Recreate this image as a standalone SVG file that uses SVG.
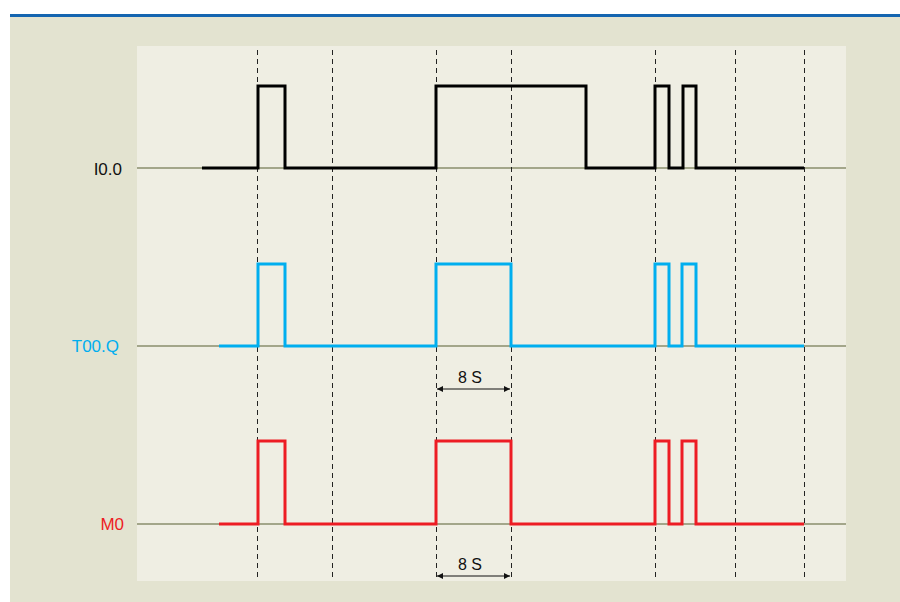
<svg xmlns="http://www.w3.org/2000/svg" width="900" height="602" viewBox="0 0 900 602">
<style>
.lbl{font-family:"Liberation Sans",Arial,sans-serif;font-size:17px}
.dim{font-family:"Liberation Sans",Arial,sans-serif;font-size:16px;fill:#111;text-anchor:middle}
.base{stroke:#a3a68a;stroke-width:2;fill:none}
.grid{stroke:#222;stroke-width:1;stroke-dasharray:5,4;fill:none}
.sig{fill:none;stroke-width:3;stroke-linejoin:miter}
.arr{stroke:#111;stroke-width:1;marker-start:url(#ah);marker-end:url(#ah)}
</style>
<defs>
<marker id="ah" viewBox="0 0 10 10" refX="10" refY="5" markerWidth="8" markerHeight="6" orient="auto-start-reverse" markerUnits="userSpaceOnUse">
<path d="M0,0 L10,5 L0,10 z" fill="#111"/>
</marker>
</defs>
<rect x="0" y="0" width="900" height="602" fill="#ffffff"/>
<rect x="10" y="16" width="890" height="586" fill="#e3e3d0"/>
<rect x="10" y="14" width="890" height="3" fill="#1565b0"/>
<rect x="137" y="46" width="709" height="535" fill="#efeee3"/>
<g id="baselines">
<line class="base" x1="137" y1="168" x2="846" y2="168"/>
<line class="base" x1="137" y1="346" x2="846" y2="346"/>
<line class="base" x1="137" y1="524" x2="846" y2="524"/>
</g>
<g id="grid">
<line class="grid" x1="257.5" y1="50" x2="257.5" y2="581"/>
<line class="grid" x1="332.5" y1="50" x2="332.5" y2="581"/>
<line class="grid" x1="436.5" y1="50" x2="436.5" y2="581"/>
<line class="grid" x1="511.5" y1="50" x2="511.5" y2="581"/>
<line class="grid" x1="655.5" y1="50" x2="655.5" y2="581"/>
<line class="grid" x1="735.5" y1="50" x2="735.5" y2="581"/>
<line class="grid" x1="804.5" y1="50" x2="804.5" y2="581"/>
</g>
<g id="I00">
<text class="lbl" x="122" y="175" text-anchor="end" fill="#111">I0.0</text>
<path class="sig" stroke="#000" d="M202,168 H258 V86 H285 V168 H436 V86 H586 V168 H655 V86 H669 V168 H683 V86 H696 V168 H804"/>
</g>
<g id="T00Q">
<text class="lbl" x="119" y="352" text-anchor="end" fill="#00aeef">T00.Q</text>
<path class="sig" stroke="#00aeef" d="M219,346 H258 V264 H285 V346 H436 V264 H511 V346 H655 V264 H669 V346 H682 V264 H696 V346 H804"/>
</g>
<g id="M0">
<text class="lbl" x="124" y="530" text-anchor="end" fill="#ed1c24">M0</text>
<path class="sig" stroke="#ed1c24" d="M219,524 H258 V441 H285 V524 H436 V441 H511 V524 H655 V441 H669 V524 H682 V441 H696 V524 H804"/>
</g>
<g id="connectors">
<line class="arr" x1="437" y1="389" x2="510" y2="389"/>
<line class="arr" x1="437" y1="576" x2="510" y2="576"/>
</g>
<g id="dim1"><text class="dim" x="470" y="383">8 S</text></g>
<g id="dim2"><text class="dim" x="470" y="570">8 S</text></g>
</svg>
